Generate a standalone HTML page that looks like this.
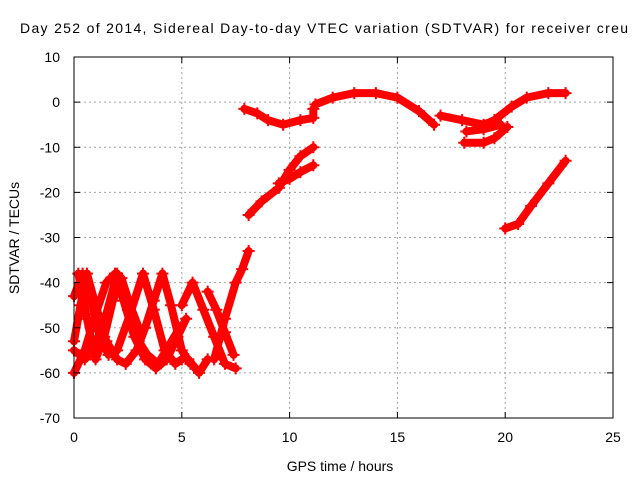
<!DOCTYPE html>
<html><head><meta charset="utf-8"><style>body{margin:0;background:#fff}svg{display:block}text{font-family:"Liberation Sans",sans-serif;font-size:14px;fill:#000}</style></head>
<body>
<svg id="chart" width="640" height="480">
<rect width="640" height="480" fill="#fff"/>
<text x="20" y="33" textLength="608" lengthAdjust="spacing">Day 252 of 2014, Sidereal Day-to-day VTEC variation (SDTVAR) for receiver creu</text>
<text x="340" y="471" text-anchor="middle">GPS time / hours</text>
<text transform="translate(19,238) rotate(-90)" text-anchor="middle">SDTVAR / TECUs</text>
<g id="grid"></g><g id="series"></g><g id="axes"></g>
</svg>
<script>
const xTicks=[0,5,10,15,20,25];
const yTicks=[10,0,-10,-20,-30,-40,-50,-60,-70];
const s1=[[0,-60],[0.5,-55],[1,-47],[1.5,-40],[1.9,-38],[2.3,-44],[2.8,-52],[3.3,-57],[3.8,-59],[4.3,-57],[4.8,-52],[5.2,-48]];
const s2=[[0,-53],[0.3,-45],[0.6,-38],[1.0,-45],[1.5,-53],[2.0,-57],[2.4,-58],[2.9,-55],[3.3,-50],[3.7,-44],[4.1,-38],[4.5,-45],[5.0,-55],[5.4,-58]];
const s3=[[0,-43],[0.4,-38],[0.8,-44],[1.2,-52],[1.6,-56],[2.0,-55],[2.6,-47],[3.2,-38],[3.7,-46],[4.2,-55],[4.7,-58],[5.0,-57]];
const s4=[[0,-55],[0.5,-57],[1.0,-54],[1.5,-47],[2.0,-38],[2.5,-46],[3.0,-53],[3.4,-56],[3.9,-58],[4.4,-54],[4.9,-50]];
const s5=[[0.2,-38],[0.6,-48],[1.0,-57],[1.4,-52],[1.8,-44],[2.2,-39],[2.6,-45],[3.0,-50]];
const s6=[[5.0,-45],[5.5,-40],[6,-46],[6.5,-52],[7,-58],[7.5,-59]];
const s7=[[5.3,-57],[5.8,-60],[6.2,-57]];
const s8=[[6.2,-42],[6.6,-46],[7,-51],[7.4,-56]];
const s9=[[6.5,-57],[7,-48],[7.5,-40],[7.8,-37],[8.1,-33]];
const s10=[[7.9,-1.5],[8.5,-2.5],[9,-4],[9.7,-5],[10.5,-4],[11.1,-3.5],[11.1,-1.5]];
const s11=[[11.2,-0.5],[12,1],[13,2],[14,2],[15,1],[16,-2],[16.7,-5]];
const s12=[[17.0,-3],[18,-4],[19,-5],[19.5,-4],[20.3,-1],[21,1],[22,2],[22.8,2]];
const s13=[[18.2,-6.5],[19,-6],[19.8,-5]];
const s14=[[18.1,-9],[19,-9],[19.5,-8],[20.1,-5.5]];
const s15=[[8.1,-25],[8.7,-22],[9.5,-19],[10,-15],[10.5,-12],[11.1,-10]];
const s16=[[9.5,-18],[10,-17],[10.5,-15.5],[11.1,-14]];
const s17=[[20,-28],[20.6,-27],[21.2,-23],[22,-18],[22.8,-13]];
const allSeries=[s1,s2,s3,s4,s5,s6,s7,s8,s9,s10,s11,s12,s13,s14,s15,s16,s17];
const X0=74,X1=613,Y0=418,Y1=57;
const sx=v=>X0+(v-0)/(25-0)*(X1-X0);
const sy=v=>Y0-(v+70)/80*(Y0-Y1);
const NS="http://www.w3.org/2000/svg";
function mk(t,a,p){const e=document.createElementNS(NS,t);for(const k in a)e.setAttribute(k,a[k]);p.appendChild(e);return e;}
const grid=document.getElementById('grid'),axes=document.getElementById('axes'),ser=document.getElementById('series');
xTicks.forEach(t=>{const x=sx(t);
 if(t>0&&t<25){const g=mk('line',{x1:x,x2:x,y1:Y1,y2:Y0,stroke:'#a0a0a0','stroke-dasharray':'2,3'},grid);}
 mk('line',{x1:x,x2:x,y1:Y0,y2:Y0-6,stroke:'#000'},axes);mk('line',{x1:x,x2:x,y1:Y1,y2:Y1+6,stroke:'#000'},axes);
 const tx=mk('text',{x:x,y:Y0+24,'text-anchor':'middle'},axes);tx.textContent=t;});
yTicks.forEach(t=>{const y=sy(t);
 if(t<10&&t>-70){const g=mk('line',{x1:X0,x2:X1,y1:y,y2:y,stroke:'#a0a0a0','stroke-dasharray':'2,3'},grid);}
 mk('line',{x1:X0,x2:X0+6,y1:y,y2:y,stroke:'#000'},axes);mk('line',{x1:X1,x2:X1-6,y1:y,y2:y,stroke:'#000'},axes);
 const tx=mk('text',{x:X0-14,y:y+5,'text-anchor':'end'},axes);tx.textContent=t;});
const fr=mk('rect',{x:X0,y:Y1,width:X1-X0,height:Y0-Y1,fill:'none',stroke:'#000'},axes);

allSeries.forEach((s,i)=>{
 const pl=mk('polyline',{points:s.map(p=>sx(p[0])+','+sy(p[1])).join(' '),fill:'none',stroke:'#f00','stroke-width':8,'stroke-linejoin':'round','stroke-linecap':'round'},ser);
 
 
 s.forEach(p=>{const x=sx(p[0]),y=sy(p[1]);
  const m=mk('path',{d:`M${x-6},${y}H${x+6}M${x},${y-6}V${y+6}`,stroke:'#f00','stroke-width':2},ser);
  
  });
});
</script>
</body></html>
